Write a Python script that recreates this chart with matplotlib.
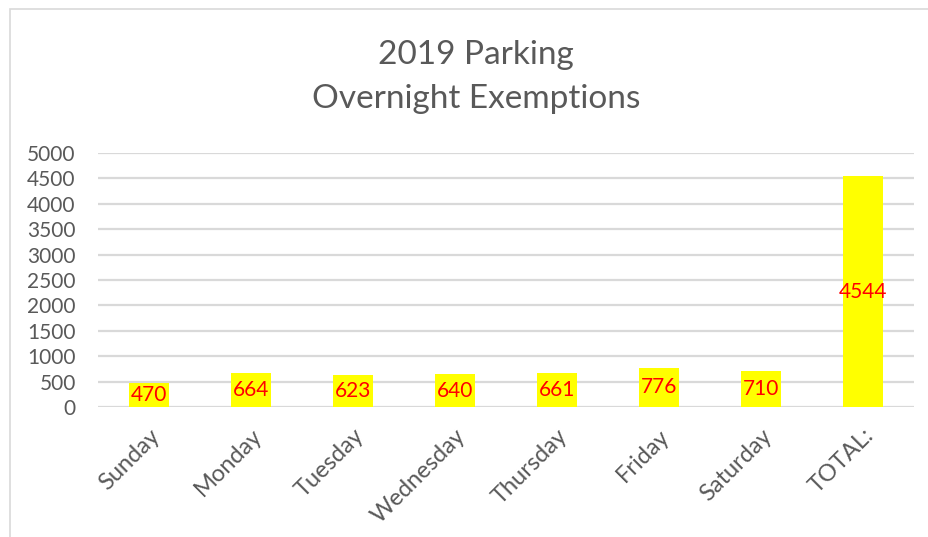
import matplotlib
matplotlib.use("Agg")
import matplotlib.pyplot as plt
from matplotlib.patches import Rectangle

categories = ["Sunday", "Monday", "Tuesday", "Wednesday", "Thursday", "Friday", "Saturday", "TOTAL:"]
values = [470, 664, 623, 640, 661, 776, 710, 4544]
yticks = [0, 500, 1000, 1500, 2000, 2500, 3000, 3500, 4000, 4500, 5000]

plt.rcParams['font.family'] = ['Lato', 'DejaVu Sans']
gray = '#595959'
grid = '#d9d9d9'

fig = plt.figure(figsize=(9.29, 5.37), dpi=100)
fig.patches.append(Rectangle((10/929, -0.1), 1.2, 1 - 9/537 + 0.1, transform=fig.transFigure,
                             fill=False, edgecolor=grid, linewidth=1.2))

ax = fig.add_axes([98/929, 1 - 407/537, (914 - 98)/929, (407 - 153)/537])
x = list(range(len(categories)))
bars = ax.bar(x, values, width=0.39, color='#ffff00', zorder=3)
ax.set_xlim(-0.5, len(categories) - 0.5)
ax.set_ylim(0, 5000)
ax.set_yticks(yticks)
ax.set_yticklabels([str(v) for v in yticks], fontsize=15, color=gray)
ax.yaxis.grid(True, color=grid, linewidth=1.6, zorder=0)
ax.set_axisbelow(True)
for s in ax.spines.values():
    s.set_visible(False)
ax.tick_params(axis='both', length=0)
ax.tick_params(axis='y', pad=16)
ax.set_xticks(x)
ax.set_xticklabels(categories, rotation=45, ha='right', rotation_mode='anchor',
                   fontsize=17, color=gray)
ax.tick_params(axis='x', pad=13)

for xi, v in zip(x, values):
    ax.text(xi, v / 2, str(v), ha='center', va='center', color='#ff0000', fontsize=15, zorder=4)

fig.text(476/929, 1 - 55/537, "2019 Parking", ha='center', va='center', fontsize=24, color=gray)
fig.text(476/929, 1 - 99/537, "Overnight Exemptions", ha='center', va='center', fontsize=24, color=gray)

fig.savefig("out.png", dpi=100)
